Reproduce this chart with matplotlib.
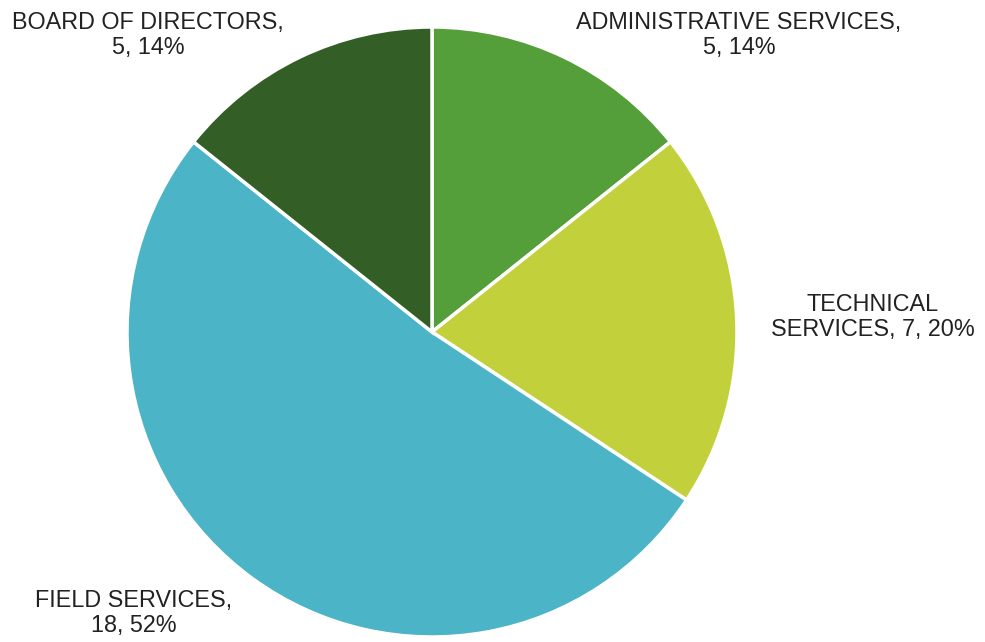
import matplotlib
matplotlib.use("Agg")
from matplotlib import pyplot as plt

# staff count by department
departments = ['ADMINISTRATIVE SERVICES', 'TECHNICAL SERVICES', 'FIELD SERVICES', 'BOARD OF DIRECTORS']
counts = [5, 7, 18, 5]
shares = [14, 20, 52, 14]
colors = ['#559F3B', '#C2D13B', '#4BB4C6', '#335F26']

W, H = 985, 642
fig = plt.figure(figsize=(W / 100, H / 100), dpi=100)
ax = fig.add_axes([0, 0, 1, 1])

ax.pie(counts, colors=colors, startangle=90, counterclock=False,
       center=(432, H - 332), radius=305,
       wedgeprops=dict(edgecolor='white', linewidth=2.5))
ax.set_xlim(0, W)
ax.set_ylim(0, H)
ax.set_aspect('equal')
ax.axis('off')

# label text, line breaks where the label wraps
label_text = [
    '%s,\n%d, %d%%' % (departments[0], counts[0], shares[0]),
    'TECHNICAL\nSERVICES, %d, %d%%' % (counts[1], shares[1]),
    '%s,\n%d, %d%%' % (departments[2], counts[2], shares[2]),
    '%s,\n%d, %d%%' % (departments[3], counts[3], shares[3]),
]
label_pos = [(739, 35), (873, 317), (134, 613), (148, 35)]

for txt, (x, y) in zip(label_text, label_pos):
    ax.text(x, H - y, txt, ha='center', va='center', fontsize=16.8,
            family='Liberation Sans', color='#222222', linespacing=1.1)

fig.savefig('out.png', dpi=100)
